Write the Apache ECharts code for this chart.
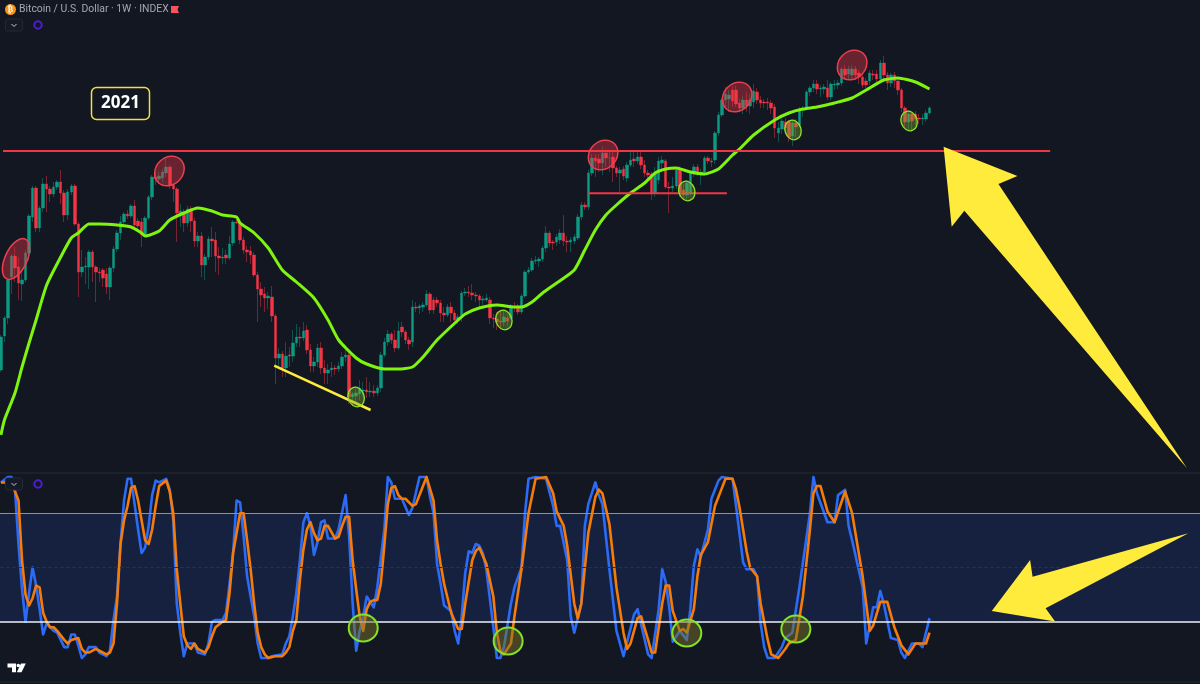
<!DOCTYPE html>
<html>
<head>
<meta charset="utf-8">
<style>html,body{margin:0;padding:0;background:#121722}#chart{width:1200px;height:684px}</style>
<script src="https://cdn.jsdelivr.net/npm/echarts@6/dist/echarts.min.js"></script>
</head>
<body>
<div id="chart"></div>
<script>
// price levels are read off the chart's unlabelled log scale, 0 = bottom of the price pane
// weekly candles: open, close, low, high
var candles = [
[102,135,100,137],[136,154,130,156],[154,192,148,194],[195,216,178,218],[216,204,190,225],[205,189,172,215],[188,192,171,200],[192,219,190,222],[219,256,212,258],[255,284,250,286],
[284,244,240,286],[244,264,240,266],[264,288,260,294],[288,283,260,296],[283,278,270,286],[278,285,275,290],[285,290,282,292],[290,279,268,302],[279,257,250,282],[257,280,252,283],
[280,286,277,288],[286,248,246,288],[248,200,175,250],[200,205,195,222],[205,206,188,215],[205,220,183,222],[220,205,190,222],[205,200,170,207],[200,199,190,204],[202,194,185,204],
[198,185,178,204],[185,204,172,206],[204,223,200,226],[223,239,220,242],[239,250,232,256],[250,258,247,260],[258,256,253,262],[256,266,254,268],[266,247,245,272],[251,246,243,254],
[250,237,225,254],[237,254,235,256],[254,275,252,277],[275,295,272,297],[295,293,287,300],[293,296,288,300],[294,300,290,303],[299,305,295,314],[305,287,283,307],[287,283,270,289],
[283,259,230,285],[259,261,245,268],[260,249,240,263],[249,263,245,266],[263,251,240,266],[251,231,225,254],[231,236,225,240],[236,207,195,240],[207,215,192,218],[215,233,212,236],
[233,231,215,245],[232,216,200,240],[216,214,197,225],[214,215,208,224],[217,214,208,222],[214,228,212,236],[229,250,226,252],[250,249,248,255],[249,232,228,252],[232,222,218,235],
[222,220,210,226],[221,217,208,226],[217,197,195,220],[197,183,150,200],[183,177,165,190],[178,174,160,185],[174,176,163,180],[175,156,150,186],[156,114,88,158],[114,118,105,124],
[118,104,95,121],[104,116,95,130],[117,116,105,125],[116,129,110,142],[129,135,125,148],[135,134,125,145],[134,141,131,150],[142,122,118,147],[122,106,100,128],[106,110,100,115],
[110,124,105,128],[124,104,98,130],[104,99,88,112],[99,102,88,108],[102,104,95,110],[104,103,97,107],[103,106,100,110],[106,115,103,120],[115,117,110,127],[117,75,68,120],
[75,78,66,80],[76,79,70,84],[78,84,72,92],[81,82,75,90],[82,80,74,95],[80,81,75,90],[81,79,75,87],[79,84,76,87],[84,117,80,120],[117,130,115,134],
[130,138,126,142],[138,132,128,140],[132,124,120,142],[124,141,122,150],[145,140,135,150],[140,132,128,142],[132,128,122,135],[130,165,125,172],[165,164,160,170],[164,166,158,168],
[165,167,160,170],[167,178,165,182],[178,162,158,180],[172,162,158,175],[172,169,165,175],[169,159,150,172],[159,157,150,165],[157,165,155,168],[165,159,150,170],[159,152,147,162],
[152,155,148,158],[155,179,150,181],[179,180,176,184],[180,179,175,186],[179,177,172,188],[177,176,170,180],[176,172,165,178],[172,173,167,176],[172,174,170,178],[172,154,148,175],
[154,153,144,158],[153,150,142,160],[151,150,145,160],[150,155,146,162],[154,151,146,158],[154,165,152,168],[165,164,160,170],[164,160,157,168],[160,176,158,178],[176,200,174,202],
[200,202,198,205],[202,211,200,214],[211,212,208,216],[211,213,205,215],[213,224,210,226],[224,239,220,246],[239,229,225,241],[230,229,222,232],[230,235,226,238],[232,239,228,243],
[239,231,226,257],[231,230,220,236],[230,232,220,235],[231,235,228,238],[234,255,232,258],[255,267,252,270],[267,265,262,270],[265,299,262,302],[299,314,296,318],[314,311,295,318],
[313,309,300,318],[309,319,297,325],[319,314,305,322],[314,314,300,320],[315,304,290,320],[304,299,295,306],[299,302,280,305],[303,296,292,306],[294,307,290,310],[307,312,305,320],
[313,311,305,320],[311,315,308,320],[315,307,303,322],[307,299,295,312],[299,297,290,302],[298,279,272,300],[279,298,275,305],[292,311,288,315],[309,312,300,316],[311,285,283,313],
[285,284,259,290],[284,286,280,295],[286,302,283,304],[302,280,275,306],[282,277,272,288],[277,289,272,292],[279,300,276,302],[299,305,295,308],[305,299,296,308],[298,300,287,303],
[300,314,297,316],[314,311,308,316],[311,310,305,314],[312,339,308,341],[339,357,336,360],[357,372,355,374],[372,378,365,385],[373,377,360,382],[382,371,365,386],[382,368,365,386],
[369,364,360,373],[364,372,358,376],[372,366,360,380],[366,372,358,378],[370,381,364,388],[380,372,368,384],[372,369,364,376],[370,369,364,373],[370,369,362,374],[369,364,358,372],
[365,344,334,368],[339,344,330,350],[343,351,338,354],[350,344,338,354],[350,335,330,352],[336,349,326,352],[349,345,335,353],[347,362,345,365],[362,363,355,366],[364,380,362,382],
[380,384,376,386],[384,388,380,392],[388,383,378,392],[383,384,375,387],[383,385,378,388],[384,375,372,392],[375,388,372,390],[387,388,382,392],[387,389,383,392],[389,403,386,405],
[403,397,393,407],[398,403,393,406],[397,403,393,407],[403,397,392,406],[399,395,388,402],[395,387,384,397],[391,387,384,394],[391,399,387,402],[398,397,392,402],[398,393,390,402],
[393,409,390,412],[409,397,392,416],[397,389,382,400],[389,397,385,399],[397,391,384,400],[391,382,377,393],[382,364,360,384],[364,350,344,366],[350,358,340,362],[358,351,340,360],
[358,353,347,361],[354,353,348,358],[353,354,347,358],[353,359,350,362],[359,364,357,366]
];

// green moving average: [week, level]
var movingAvg = [
[0,37],[1,52],[4,79],[6,105],[8,129],[10,152],[13,187],[17,215],[20,234],[22,239],[25,248],[28,248],[33,247],[37,245],[40,239],[41,236],[45,241],[48,252],[52,259],[56,264],
[60,261],[63,257],[67,255],[68,249],[72,239],[76,224],[80,202],[84,190],[89,174],[93,152],[96,132],[101,114],[104,108],[109,103],[113,103],[117,105],[120,115],[124,132],
[130,152],[132,158],[136,164],[141,167],[146,165],[148,165],[151,170],[154,179],[158,189],[163,202],[166,222],[169,242],[172,257],[175,267],[179,279],[183,289],[186,299],
[189,303],[192,304],[196,300],[200,298],[204,303],[208,317],[210,323],[214,337],[220,352],[224,359],[228,363],[232,365],[237,369],[242,374],[246,382],[251,392],[255,394],[260,390],[264,383]
];

// stochastic RSI: [week, value]
var stochK = [
[0,97],[2,100],[3,100],[4,93],[5,63],[6,38],[7,20],[8,36],[9,50],[10,40],[11,27],[12,13],[13,19],[14,17],[15,15],[16,14],[17,10],[18,6],[19,6],[20,13],[21,13],[22,7],[23,0],[24,2],[25,6],[27,6],[28,3],[29,2],[30,1],
[31,4],[32,21],[33,34],[34,63],[35,87],[36,99],[37,99],[38,85],[39,71],[40,58],[41,61],[42,73],[43,90],[44,98],[45,97],[47,99],[48,93],[49,76],[50,30],[51,14],[52,1],[53,8],[55,8],[56,3],[58,2],[59,8],[60,20],[61,21],[63,21],
[64,25],[65,41],[66,58],[67,87],[68,86],[69,67],[70,45],[71,34],[72,23],[73,8],[74,0],[76,0],[77,1],[80,2],[81,8],[82,12],[83,23],[84,36],[85,54],[86,75],[87,80],[88,73],[89,57],[90,64],[91,75],[92,76],[93,66],[95,66],[96,71],
[98,90],[99,67],[100,30],[101,4],[102,15],[103,23],[104,34],[106,28],[107,39],[109,71],[110,100],[111,97],[112,88],[114,88],[116,79],[117,83],[119,100],[121,100],[122,89],[123,80],[124,52],[125,41],[126,29],[128,26],[129,15],[130,8],
[131,23],[132,47],[133,59],[134,58],[135,63],[136,62],[137,58],[138,49],[140,17],[141,0],[142,0],[143,6],[145,30],[146,39],[148,50],[149,80],[150,99],[152,100],[155,99],[157,84],[158,73],[159,73],[161,54],[162,23],[163,14],[165,30],
[166,73],[167,85],[169,97],[170,90],[171,85],[173,49],[175,15],[177,1],[180,24],[181,27],[184,2],[185,0],[187,27],[188,49],[189,42],[190,28],[191,9],[193,15],[195,10],[196,27],[197,51],[198,60],[199,56],[201,71],[202,88],[204,98],[205,100],
[208,99],[209,84],[211,53],[212,49],[214,49],[215,45],[216,19],[217,6],[218,0],[220,0],[222,6],[223,11],[225,14],[227,39],[230,80],[231,100],[232,91],[235,75],[237,75],[238,90],[240,93],[241,73],[242,65],[245,39],[246,8],[248,28],[249,28],
[250,37],[251,30],[253,11],[255,10],[256,3],[257,0],[259,8],[261,8],[262,6],[264,22]
];
var stochD = [
[0,97],[3,97],[5,87],[6,54],[7,35],[8,29],[9,33],[10,40],[11,39],[12,25],[13,20],[14,17],[15,17],[16,15],[18,10],[19,8],[20,10],[22,11],[23,5],[24,3],[25,3],[27,5],[28,4],[30,2],[31,3],[32,8],[33,30],[34,63],[35,76],[36,84],[37,94],[38,95],
[39,87],[40,76],[41,65],[42,63],[43,71],[44,84],[45,95],[47,98],[48,92],[49,80],[50,49],[51,30],[52,12],[53,7],[54,5],[55,8],[56,5],[58,3],[59,6],[60,12],[61,17],[63,20],[64,21],[65,36],[66,58],[67,69],[68,80],[69,80],[70,65],[71,49],[72,30],
[73,14],[74,6],[75,2],[76,0],[78,1],[80,1],[81,3],[82,6],[83,15],[84,21],[85,43],[86,60],[87,71],[88,75],[89,69],[90,65],[91,66],[92,73],[93,73],[95,66],[96,67],[97,73],[98,78],[99,78],[100,54],[101,38],[102,23],[103,15],[104,27],[105,31],
[106,32],[107,32],[108,41],[109,62],[110,85],[111,94],[112,95],[113,90],[114,88],[115,88],[117,84],[118,85],[120,95],[121,100],[123,87],[124,65],[125,52],[126,41],[128,25],[130,16],[131,16],[132,30],[134,54],[135,59],[136,61],[138,52],[140,34],
[141,14],[142,4],[143,2],[145,8],[146,23],[148,49],[150,80],[152,99],[155,100],[157,91],[158,81],[160,73],[161,62],[163,30],[164,22],[165,30],[167,69],[169,89],[170,93],[171,91],[173,74],[175,39],[177,14],[178,5],[179,8],[181,22],[182,23],
[184,10],[185,3],[186,3],[188,30],[189,40],[190,40],[191,26],[193,15],[194,16],[195,14],[197,27],[198,45],[199,57],[201,64],[203,84],[205,94],[206,99],[208,99],[209,93],[210,83],[212,59],[213,50],[215,45],[216,30],[218,10],[219,2],[221,0],
[223,5],[224,8],[226,10],[228,34],[230,71],[231,91],[232,95],[233,95],[235,81],[237,75],[240,92],[242,80],[245,45],[247,15],[248,18],[250,31],[252,31],[254,17],[256,7],[258,2],[260,8],[263,8],[264,14]
];

// drawn levels and lines
var resistanceLine = [[0.6,321],[298.3,321]];
var supportLine = [[167,278.7],[206.4,278.7]];
var wedgeLine = [[77.7,106.3],[105.1,62]];
var stochLevels = [20,50,80];

// circled spots: [week, level]
var redSpots = [[47.9,301],[171.2,317],[209.3,375],[242,407]];
var redSpotFirst = [[4.3,213]];
var greenSpots = [[101,75],[143,152],[195,281],[225.2,342],[258.2,351]];
var stochSpots = [[103,16.6],[144.2,9.4],[195,13.8],[226,16]];

// the two big arrows, corners in chart units
var priceArrow = [[268,325.3],[289,296],[283.6,288],[337.2,3.7],[273.9,261.3],[270.3,245.3]];
var stochArrow = [[281.7,26],[292.6,54.1],[293.3,44.9],[337.6,68.9],[297,27.5],[299.7,20.1]];

var titleText = 'Bitcoin / U.S. Dollar · 1W · INDEX';
var yearText = '2021';

var weekMin = -0.26, weekMax = 340.9;
var upColor = '#0c9a83', downColor = '#f23645';
var yellow = '#ffeb3b';

function ellipseSeries(data, yIndex, rx, ry, rot, fill, stroke, lw) {
    return {
        type: 'custom',
        xAxisIndex: yIndex,
        yAxisIndex: yIndex,
        z: 6,
        clip: false,
        silent: true,
        data: data,
        renderItem: function (params, api) {
            var c = api.coord([api.value(0), api.value(1)]);
            return {
                type: 'ellipse',
                x: c[0],
                y: c[1],
                rotation: rot,
                shape: {cx: 0, cy: 0, rx: rx, ry: ry},
                style: {fill: fill, stroke: stroke, lineWidth: lw}
            };
        }
    };
}

function arrowSeries(corners, yIndex) {
    return {
        type: 'custom',
        xAxisIndex: yIndex,
        yAxisIndex: yIndex,
        z: 8,
        clip: false,
        silent: true,
        data: corners,
        renderItem: function (params, api) {
            if (params.dataIndex !== 0) return null;
            return {
                type: 'polygon',
                shape: {points: corners.map(function (p) { return api.coord(p); })},
                style: {fill: yellow}
            };
        }
    };
}

function straightLine(data, color, width) {
    return {
        type: 'line',
        xAxisIndex: 0,
        yAxisIndex: 0,
        z: 5,
        clip: false,
        silent: true,
        showSymbol: false,
        data: data,
        lineStyle: {color: color, width: width}
    };
}

function stochLine(data, color) {
    return {
        type: 'line',
        xAxisIndex: 1,
        yAxisIndex: 1,
        z: 4,
        clip: false,
        silent: true,
        showSymbol: false,
        data: data,
        lineStyle: {color: color, width: 2.6, join: 'round'}
    };
}

var rows = candles.map(function (c, i) { return [i, c[0], c[1], c[2], c[3]]; });

// header and small chart furniture
function paneIcons(y) {
    return [
        {type: 'rect', z: 20, shape: {x: 5.5, y: y - 6, width: 17, height: 12, r: 2}, style: {fill: '#151a26', stroke: '#242936', lineWidth: 1}},
        {type: 'polyline', z: 21, shape: {points: [[11.5, y - 1], [14, y + 1.5], [16.5, y - 1]]}, style: {fill: 'none', stroke: '#c4c8d0', lineWidth: 1}},
        {type: 'circle', z: 21, shape: {cx: 38, cy: y, r: 3.7}, style: {fill: 'transparent', stroke: '#4b1fd1', lineWidth: 2}}
    ];
}

var option = {
    animation: false,
    backgroundColor: '#121722',
    grid: [
        {left: 0, top: 0, width: 1200, height: 472},
        {left: 0, top: 477, width: 1200, height: 181}
    ],
    xAxis: [
        {type: 'value', gridIndex: 0, min: weekMin, max: weekMax, show: false},
        {type: 'value', gridIndex: 1, min: weekMin, max: weekMax, show: false}
    ],
    yAxis: [
        {type: 'value', gridIndex: 0, min: 0, max: 472, show: false},
        {type: 'value', gridIndex: 1, min: 0, max: 100, show: false}
    ],
    graphic: [
        {type: 'group', silent: true, children: [
            {type: 'rect', shape: {x: 0, y: 472.5, width: 1200, height: 1}, style: {fill: '#262a35'}},
            {type: 'rect', shape: {x: 0, y: 681.5, width: 1200, height: 1}, style: {fill: '#262a35'}},
            {type: 'circle', shape: {cx: 10.5, cy: 9.5, r: 5.5}, style: {fill: '#f7931a'}},
            {type: 'text', style: {x: 10.5, y: 9.5, text: '₿', fill: '#ffffff', font: 'bold 8px "DejaVu Sans"', align: 'center', verticalAlign: 'middle'}},
            {type: 'text', style: {x: 19, y: 9.5, text: titleText, fill: '#a3a7b2', font: '10.4px Roboto', verticalAlign: 'middle'}},
            {type: 'polygon', shape: {points: [[171, 6], [179, 6], [177.5, 9.5], [179, 13], [171, 13]]}, style: {fill: '#f7525f'}},
            {type: 'rect', z: 10, shape: {x: 91.5, y: 87.5, width: 58, height: 32, r: 5}, style: {fill: '#121722', stroke: '#efe045', lineWidth: 1.5}},
            {type: 'text', z: 11, style: {x: 120.5, y: 103, text: yearText, fill: '#ffffff', font: 'bold 17px "Open Sans"', align: 'center', verticalAlign: 'middle'}},
            {type: 'polygon', shape: {points: [[7.5, 663.5], [16, 663.5], [16, 672.3], [12, 672.3], [12, 667.5], [7.5, 667.5]]}, style: {fill: '#ffffff'}},
            {type: 'circle', shape: {cx: 18.3, cy: 665.5, r: 1.8}, style: {fill: '#ffffff'}},
            {type: 'polygon', shape: {points: [[21, 663.5], [25.8, 663.5], [21.5, 672.3], [16.8, 672.3]]}, style: {fill: '#ffffff'}}
        ].concat(paneIcons(25)).concat(paneIcons(484))}
    ],
    series: [
        {
            type: 'candlestick',
            xAxisIndex: 0,
            yAxisIndex: 0,
            z: 2,
            silent: true,
            barWidth: 3,
            encode: {x: 0, y: [1, 2, 3, 4]},
            data: rows,
            itemStyle: {
                color: upColor,
                color0: downColor,
                borderColor: 'rgba(12,154,131,0.45)',
                borderColor0: 'rgba(242,54,69,0.45)',
                borderWidth: 1
            }
        },
        {
            type: 'line',
            xAxisIndex: 0,
            yAxisIndex: 0,
            z: 4,
            clip: false,
            silent: true,
            showSymbol: false,
            smooth: 0.2,
            data: movingAvg,
            lineStyle: {color: '#7ff50f', width: 3}
        },
        straightLine(resistanceLine, '#f23645', 2),
        straightLine(supportLine, '#f23645', 2),
        straightLine(wedgeLine, yellow, 2.5),
        ellipseSeries(redSpotFirst, 0, 22, 11, 1.13, 'rgba(242,54,69,0.38)', '#ea3f4e', 1.5),
        ellipseSeries(redSpots, 0, 16, 13.5, 0.8, 'rgba(242,54,69,0.38)', '#ea3f4e', 1.5),
        ellipseSeries(greenSpots, 0, 10, 8, -1.25, 'rgba(126,170,48,0.4)', '#8fe32a', 1.3),
        Object.assign(stochLine(stochK, '#2b6bf6'), {
            markArea: {
                silent: true,
                itemStyle: {color: '#16213f', opacity: 1},
                data: [[{xAxis: weekMin, yAxis: stochLevels[0]}, {xAxis: weekMax, yAxis: stochLevels[2]}]]
            },
            markLine: {
                silent: true,
                symbol: 'none',
                label: {show: false},
                data: [
                    {yAxis: stochLevels[0], lineStyle: {color: '#eef0f4', width: 1.5, type: 'solid'}},
                    {yAxis: stochLevels[1], lineStyle: {color: '#252f4e', width: 1, type: 'dashed'}},
                    {yAxis: stochLevels[2], lineStyle: {color: '#8d919c', width: 1, type: 'solid'}}
                ]
            }
        }),
        stochLine(stochD, '#f57c0a'),
        ellipseSeries(stochSpots, 1, 14.5, 13.5, 0, 'rgba(120,115,40,0.5)', '#84e326', 2),
        arrowSeries(priceArrow, 0),
        arrowSeries(stochArrow, 1)
    ]
};

var myChart = echarts.init(document.getElementById('chart'), null, {renderer: 'canvas'});
myChart.setOption(option);
</script>
</body>
</html>
